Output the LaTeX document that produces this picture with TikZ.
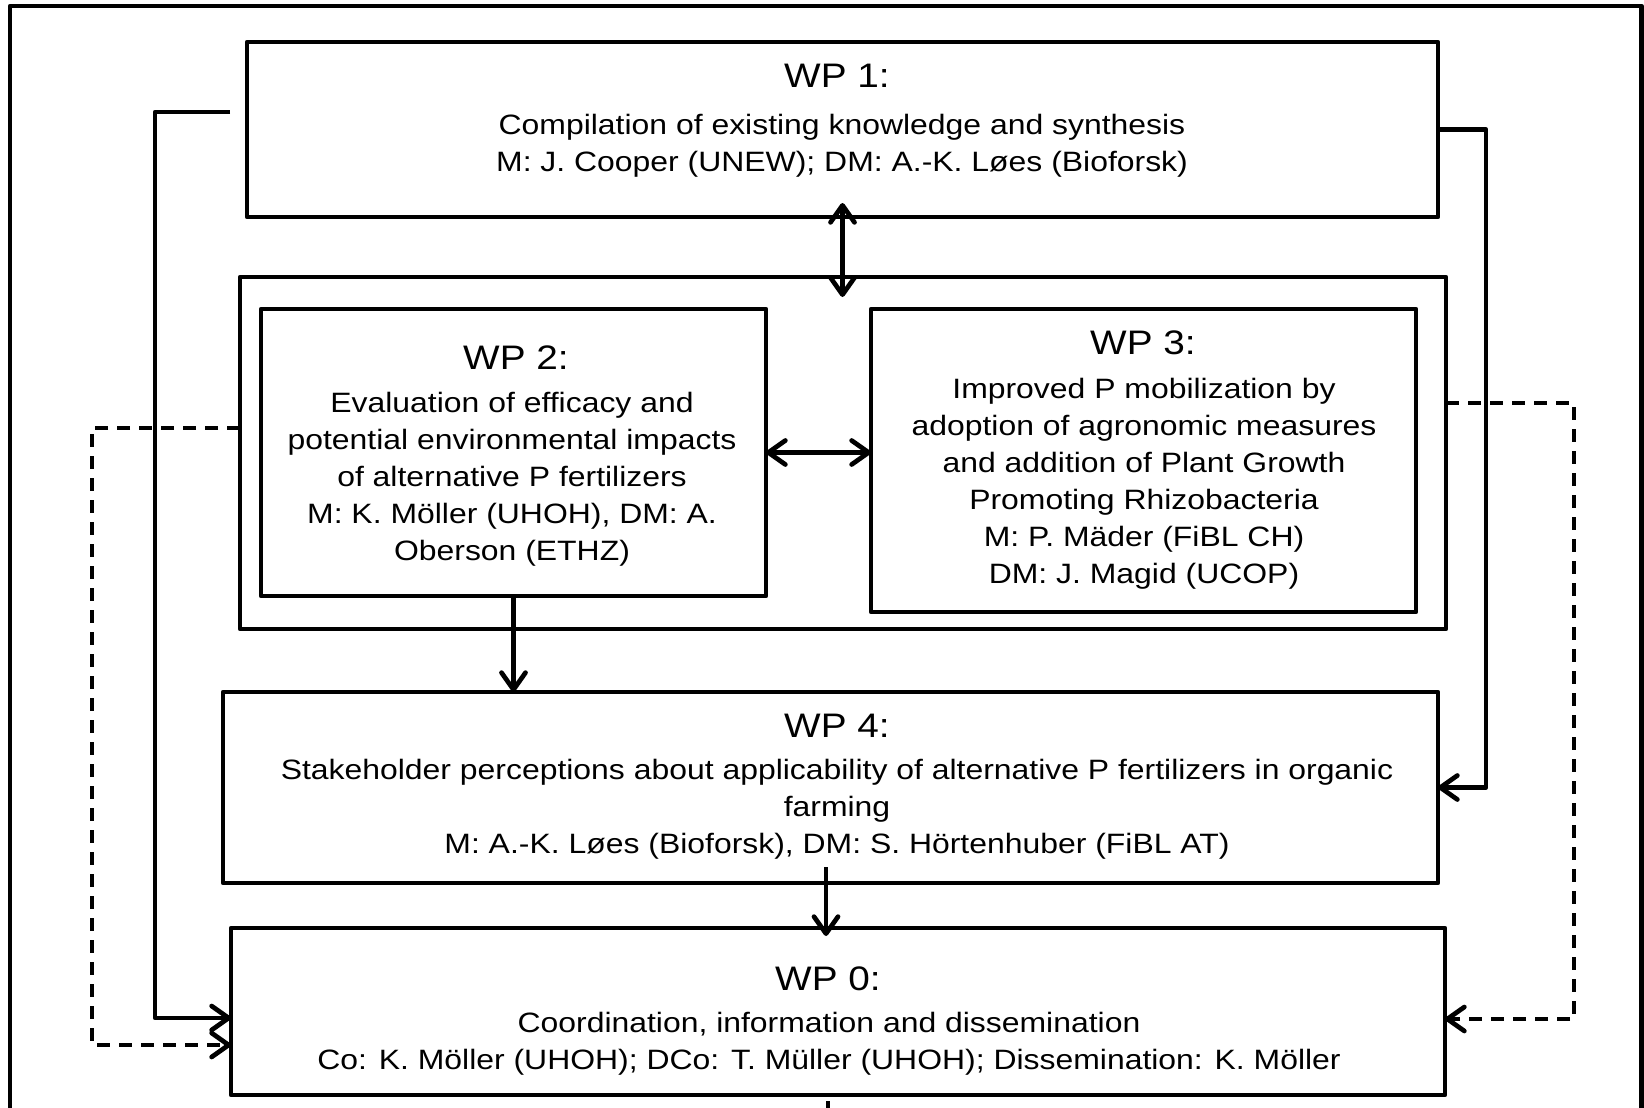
\documentclass[tikz,border=0pt]{standalone}
\usepackage{fontspec}
\setmainfont[FakeStretch=1.14]{Liberation Sans}
\usetikzlibrary{arrows.meta}
\begin{document}
\begin{tikzpicture}[x=0.5pt,y=-0.5pt,
  lw/.style={line width=2.35pt, line join=round},
  box/.style={draw, lw, inner sep=0pt, outer sep=0pt},
  conn/.style={lw},
  dsh/.style={lw, dash pattern=on 6.5pt off 4.5pt},
  >={Straight Barb[length=8.5pt,width=12pt,round]},
  ttl/.style={font=\fontsize{17}{20}\selectfont, inner sep=0pt, anchor=base},
  bdy/.style={font=\fontsize{14}{18.5}\selectfont, align=center, inner sep=0pt, anchor=base}]
\useasboundingbox (0,0) rectangle (1644,1108);
% outer frame
\draw[lw] (10,1130) -- (10,6) -- (1641.5,6) -- (1641.5,1130);
% boxes
\node[box, minimum width=595.5pt, minimum height=87.5pt] (WP1) at (842.5,129.5) {};
\node[box, minimum width=603pt, minimum height=176pt] (grp) at (843,453) {};
\node[box, minimum width=252.5pt, minimum height=143.5pt] (WP2) at (513.5,452.5) {};
\node[box, minimum width=272.5pt, minimum height=151.5pt] (WP3) at (1143.5,460.5) {};
\node[box, minimum width=607.5pt, minimum height=95.5pt] (WP4) at (830.5,787.5) {};
\node[box, minimum width=607pt, minimum height=83.5pt] (WP0) at (838,1011.5) {};
% texts (body nodes anchored at the baseline of their last line)
\node[ttl] (t1) at (837,87) {WP 1:};
\node[bdy] (b1) at (842,171) {Compilation of existing knowledge and synthesis\\M: J. Cooper (UNEW); DM: A.-K. Løes (Bioforsk)};
\node[ttl] (t2) at (516,369) {WP 2:};
\node[bdy] (b2) at (512,560) {Evaluation of efficacy and\\potential environmental impacts\\of alternative P fertilizers\\M: K. Möller (UHOH), DM: A.\\Oberson (ETHZ)};
\node[ttl] (t3) at (1143,354) {WP 3:};
\node[bdy] (b3) at (1144,583) {Improved P mobilization by\\adoption of agronomic measures\\and addition of Plant Growth\\Promoting Rhizobacteria\\M: P. Mäder (FiBL CH)\\DM: J. Magid (UCOP)};
\node[ttl] (t4) at (837,737) {WP 4:};
\node[bdy] (b4) at (837,853) {Stakeholder perceptions about applicability of alternative P fertilizers in organic\\farming\\M: A.-K. Løes (Bioforsk), DM: S. Hörtenhuber (FiBL AT)};
\node[ttl] (t0) at (828,990) {WP 0:};
\node[bdy] (b0) at (829,1069) {Coordination, information and dissemination\\Co: K. Möller (UHOH); DCo: T. Müller (UHOH); Dissemination: K. Möller};
% connectors
\coordinate (s1) at (230,112);
\draw[conn,->] (s1) -- ++(-75,0) |- ([yshift=-3.25pt]WP0.west);
\draw[conn,->] (WP1.east) -- ++(48,0) |- (WP4.east);
\draw[conn,<->, shorten <=-7pt, shorten >=-10pt] (WP1.south) -- (WP1.south |- grp.north);
\draw[conn,<->] (WP2.east) -- (WP2.east -| WP3.west);
\draw[conn,->] (WP2.south) -- (WP2.south |- WP4.north);
\draw[conn,->, shorten <=-8pt, shorten >=-4pt] ([xshift=-2.25pt]WP4.south) -- ([xshift=-2.25pt]WP4.south |- WP0.north);
\draw[dsh,->] ([yshift=25pt]grp.east) -- ++(128,0) |- ([yshift=-3.75pt]WP0.east);
\draw[dsh,->] ([yshift=12.5pt]grp.west) -- ++(-148,0) |- ([yshift=-16.75pt]WP0.west);
% mark at bottom
\coordinate (m1) at (828,1101);
\draw[lw] (m1) -- ++(0,30);
\end{tikzpicture}
\end{document}
